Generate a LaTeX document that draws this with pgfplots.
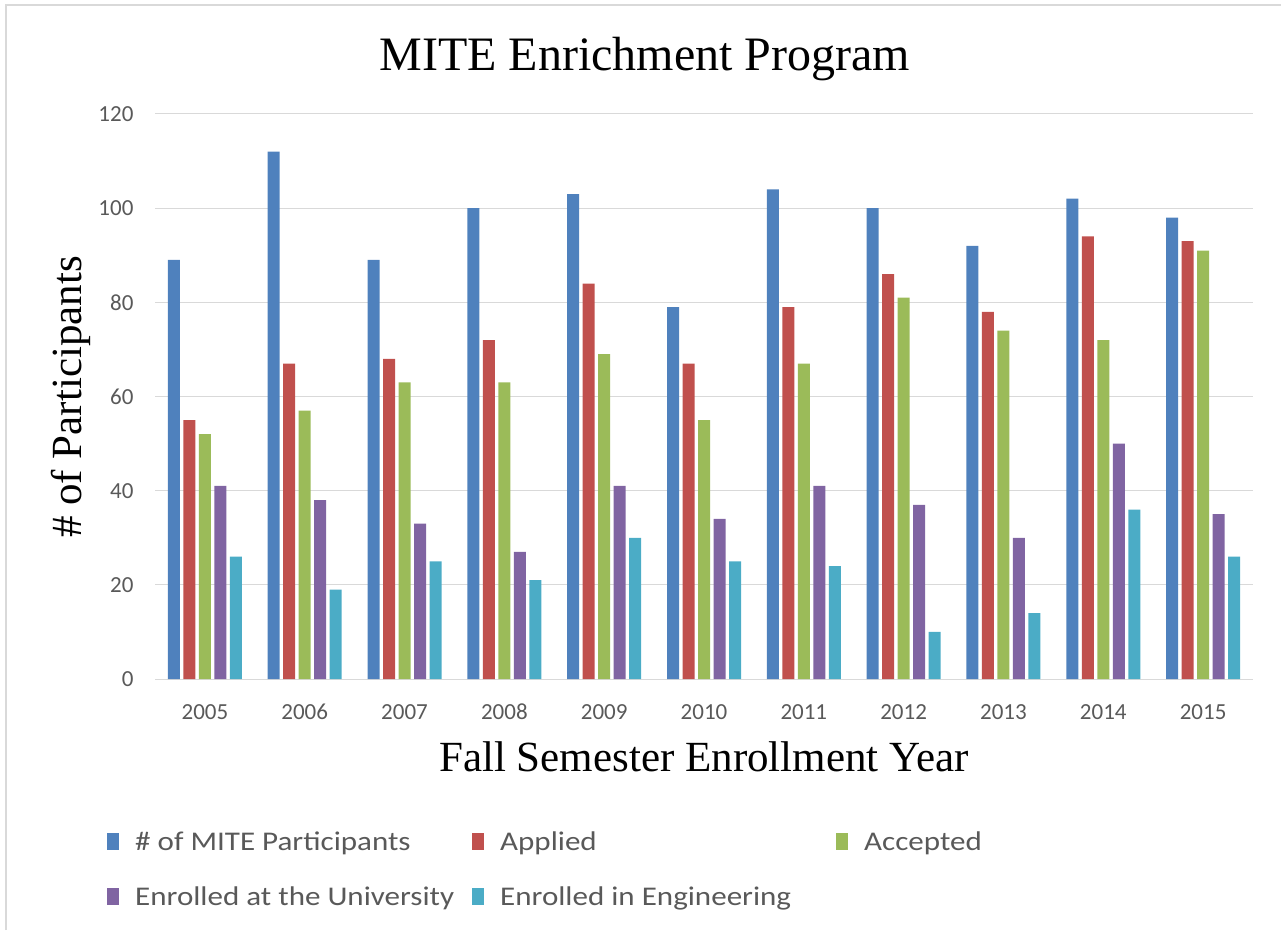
\documentclass[border=0pt]{standalone}
\usepackage{graphicx}
\usepackage{pgfplots}
\pgfplotsset{compat=1.18}
\usepackage{fontspec}
\setmainfont{Liberation Serif}
\newfontfamily\carlito{Carlito}
\definecolor{cA}{HTML}{4F81BD}
\definecolor{cB}{HTML}{C0504D}
\definecolor{cC}{HTML}{9BBB59}
\definecolor{cD}{HTML}{8064A2}
\definecolor{cE}{HTML}{4BACC6}
\definecolor{gridc}{HTML}{D9D9D9}
\definecolor{tickc}{HTML}{595959}
\newcommand{\legtxt}[2]{\makebox[#1][l]{\scalebox{1.15}[1]{#2}}}
\begin{document}
\begin{tikzpicture}[x=1pt,y=1pt]
\useasboundingbox (0,0) rectangle (1281,930);
\draw[gridc, line width=1.5pt] (6,0) -- (6,925) -- (1281,925);
\begin{axis}[
  at={(155pt,251pt)}, anchor=south west,
  scale only axis, width=1098pt, height=565pt,
  ybar=3.5pt, bar width=12pt,
  xmin=-0.5, xmax=10.5, ymin=0, ymax=120,
  xtick=data,
  xticklabels={2005,2006,2007,2008,2009,2010,2011,2012,2013,2014,2015},
  ytick={0,20,...,120},
  ymajorgrids, grid style={gridc, line width=1pt},
  axis line style={draw=none},
  major tick length=0pt,
  /pgf/number format/assume math mode=true,
  ticklabel style={font=\carlito\fontsize{23}{27}\selectfont, text=tickc},
  xticklabel style={anchor=base, yshift=-40pt},
  yticklabel style={xshift=-18pt},
  title={MITE Enrichment Program},
  title style={font=\fontsize{48}{54}\selectfont, at={(0.446,1.086)}, anchor=center},
  xlabel={Fall Semester Enrollment Year},
  xlabel style={font=\fontsize{43}{49}\selectfont, at={(0.5,-0.138)}, anchor=center},
  ylabel={\# of Participants},
  ylabel style={font=\fontsize{43}{49}\selectfont, at={(-0.0765,0.499)}, anchor=center, rotate=0},
  legend columns=3,
  legend style={at={(-0.0437,-0.266)}, anchor=north west, draw=none, fill=none,
    font=\carlito\fontsize{27}{31}\selectfont, text=tickc,
    /tikz/every odd column/.append style={column sep=14pt},
    /tikz/every even column/.append style={column sep=0pt},
    row sep=31pt, inner sep=0pt},
  legend cell align=left,
  legend image code/.code={\fill[#1] (0pt,-8.5pt) rectangle (12pt,8.5pt);},
]
\addplot[fill=cA, draw=none] coordinates {(0,89) (1,112) (2,89) (3,100) (4,103) (5,79) (6,104) (7,100) (8,92) (9,102) (10,98)};
\addplot[fill=cB, draw=none] coordinates {(0,55) (1,67) (2,68) (3,72) (4,84) (5,67) (6,79) (7,86) (8,78) (9,94) (10,93)};
\addplot[fill=cC, draw=none] coordinates {(0,52) (1,57) (2,63) (3,63) (4,69) (5,55) (6,67) (7,81) (8,74) (9,72) (10,91)};
\addplot[fill=cD, draw=none] coordinates {(0,41) (1,38) (2,33) (3,27) (4,41) (5,34) (6,41) (7,37) (8,30) (9,50) (10,35)};
\addplot[fill=cE, draw=none] coordinates {(0,26) (1,19) (2,25) (3,21) (4,30) (5,25) (6,24) (7,10) (8,14) (9,36) (10,26)};
\addlegendentry{\legtxt{335pt}{\# of MITE Participants}}
\addlegendentry{\legtxt{334pt}{Applied}}
\addlegendentry{\legtxt{150pt}{Accepted}}
\addlegendentry{\legtxt{335pt}{Enrolled at the University}}
\addlegendentry{\legtxt{334pt}{Enrolled in Engineering}}
\end{axis}
\end{tikzpicture}
\end{document}
